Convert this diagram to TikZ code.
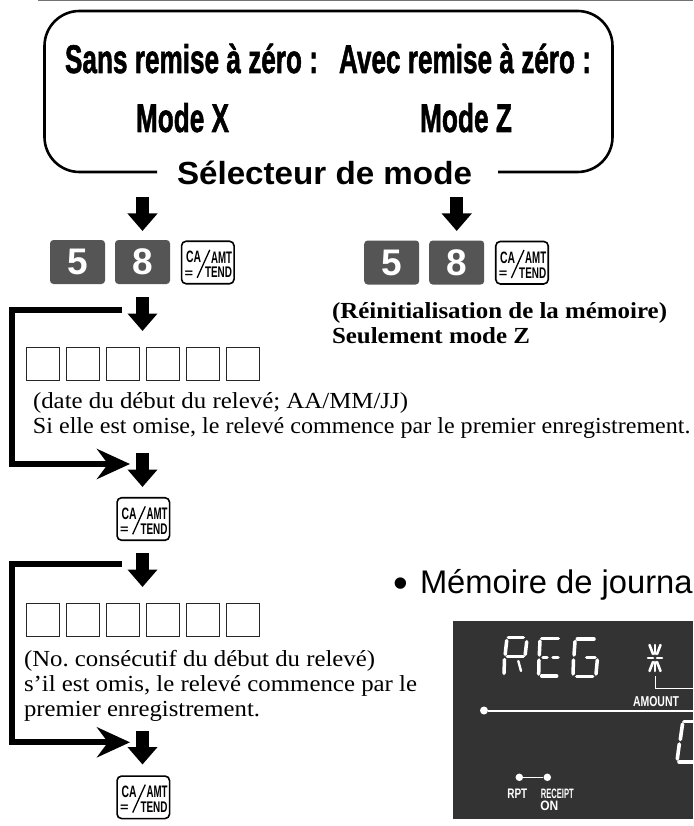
\documentclass[tikz,border=0pt]{standalone}
\usepackage{fontspec}
\setmainfont{Liberation Serif}
\newfontfamily\arialf{Liberation Sans}
\newfontfamily\arialh{Liberation Sans}[BoldFeatures={FakeBold=1.6}]
\usetikzlibrary{arrows.meta}
\definecolor{keygrey}{HTML}{555555}
\definecolor{lcdgrey}{HTML}{333333}
\frenchspacing
\newcommand{\fitw}[2]{\resizebox{#1pt}{\height}{#2}}
\newcommand{\fitwh}[3]{\resizebox{#1pt}{#2pt}{#3}}
\tikzset{
  txt/.style={anchor=base west,inner sep=0pt,outer sep=0pt,text=black},
  lab/.style={anchor=center,inner sep=0pt,outer sep=0pt},
  fatarrow/.style={line width=12.7pt,-{Triangle[length=17.5pt,width=29pt]}},
  bracket/.style={line width=6pt,miter limit=10},
  bracketarrow/.style={bracket,-{Stealth[length=33pt,width=30pt,inset=11pt]}},
  digitkey/.style={draw=none,fill=keygrey,rounded corners=3.5pt,minimum width=55pt,minimum height=44pt,inner sep=0pt,text=white,font=\arialf\bfseries\fontsize{37}{37}\selectfont},
  capkey/.style={draw=black,line width=1.6pt,fill=white,rounded corners=4.5pt,minimum width=52.5pt,minimum height=42.5pt,inner sep=0pt},
  cell/.style={draw=black!85,line width=0.7pt,fill=white,minimum width=33.5pt,minimum height=33.5pt,inner sep=0pt},
  seg/.style={draw=white,line width=3.5pt,line cap=round},
  bigseg/.style={draw=white,line width=3.6pt,line cap=round},
  lcdline/.style={draw=white,line width=2pt},
  lcdthin/.style={draw=white,line width=1pt},
  lcdtext/.style={lab,text=white,font=\arialf\bfseries\fontsize{13}{13}\selectfont},
}
% top-left corner of the key is (#2,#3)
\newcommand{\cakey}[3]{%
  \node[capkey] (#1) at (#2+27.3,#3+22) {};
  \node[lab] (#1ca) at (#2+13,#3+16.8) {\arialf\bfseries\fitwh{15}{11.5}{CA}};
  \node[lab] (#1amt) at (#2+41,#3+16.8) {\arialf\bfseries\fitwh{21}{11.5}{AMT}};
  \node[lab] (#1eq) at (#2+8.3,#3+33.3) {\arialf\bfseries\fitwh{8.5}{6.5}{=}};
  \node[lab] (#1tend) at (#2+38,#3+32) {\arialf\bfseries\fitwh{27}{10.6}{TEND}};
  \draw[line width=1.3pt] (#2+29.3,#3+9.3) -- (#2+16.7,#3+37.3);
}
\begin{document}
\begin{tikzpicture}[x=1pt,y=-1pt]
\useasboundingbox (0,0) rectangle (693,826);
\clip (0,0) rectangle (693,826);
\fill[white] (0,0) rectangle (693,826);

% top rule
\coordinate (ruleL) at (38,0.5);
\coordinate (ruleR) at (693,0.5);
\draw[black!55,line width=1.4pt] (ruleL) -- (ruleR);

% rounded selector frame, open at the bottom
\coordinate (frameL) at (157,172);
\coordinate (frameR) at (498,172);
\draw[line width=2.6pt,rounded corners=35pt]
  (frameL) -- (44.5,172) -- (44.5,11) -- (612.5,11) -- (612.5,172) -- (frameR);

\node[txt] (sans) at (65,73) {\arialh\bfseries\fontsize{40}{40}\selectfont\fitw{253}{Sans remise à zéro :}};
\node[txt] (avec) at (339,73) {\arialh\bfseries\fontsize{40}{40}\selectfont\fitw{252}{Avec remise à zéro :}};
\node[txt] (modex) at (136,132) {\arialh\bfseries\fontsize{40}{40}\selectfont\fitw{93}{Mode X}};
\node[txt] (modez) at (420,132) {\arialh\bfseries\fontsize{40}{40}\selectfont\fitw{92}{Mode Z}};
\node[txt] (selecteur) at (177,185) {\arialf\bfseries\fontsize{32}{32}\selectfont\fitw{295}{Sélecteur de mode}};

% left keys
\node[digitkey] (k5a) at (77.5,262) {5};
\node[digitkey] (k8a) at (142.5,262) {8};
\cakey{caa}{180.5}{240.5}
% right keys
\node[digitkey] (k5b) at (391.7,262.5) {5};
\node[digitkey] (k8b) at (456.7,262.5) {8};
\cakey{cab}{494.7}{240.7}

% bold note
\node[txt] (reinit) at (332,318) {\bfseries\fontsize{23}{23}\selectfont\fitw{335}{(Réinitialisation de la mémoire)}};
\node[txt] (seul) at (332,343) {\bfseries\fontsize{23}{23}\selectfont\fitw{198}{Seulement mode Z}};

% entry cells
\foreach \i in {0,...,5}{
  \node[cell] (ca\i) at (43+40*\i,364) {};
  \node[cell] (cb\i) at (43+40*\i,619.7) {};
}

\node[txt] (date1) at (33,408) {\fontsize{23}{23}\selectfont\fitw{375}{(date du début du relevé; AA/MM/JJ)}};
\node[txt] (date2) at (33,433) {\fontsize{23}{23}\selectfont\fitw{657.5}{Si elle est omise, le relevé commence par le premier enregistrement.}};
\node[txt] (no1) at (24,666.7) {\fontsize{23}{23}\selectfont\fitw{351}{(No. consécutif du début du relevé)}};
\node[txt] (no2) at (24,691.7) {\fontsize{23}{23}\selectfont\fitw{393}{s’il est omis, le relevé commence par le}};
\node[txt] (no3) at (24,716.7) {\fontsize{23}{23}\selectfont\fitw{236}{premier enregistrement.}};

% lower keys
\cakey{cac}{116}{497}
\cakey{cad}{116}{775.3}

% brackets (skip paths)
\coordinate (skipAstart) at (122,310);
\coordinate (skipAcornerT) at (11.6,310);
\coordinate (skipAcornerB) at (11.6,464);
\coordinate (skipAend) at (130,464);
\draw[bracketarrow] (skipAstart) -- (skipAcornerT) -- (skipAcornerB) -- (skipAend);
\coordinate (skipBstart) at (122,564.3);
\coordinate (skipBcornerT) at (11.6,564.3);
\coordinate (skipBcornerB) at (11.6,742.3);
\coordinate (skipBend) at (130,742.3);
\draw[bracketarrow] (skipBstart) -- (skipBcornerT) -- (skipBcornerB) -- (skipBend);

% fat arrows
\foreach \n/\xx/\ya/\yb in {a/142.5/197/231,b/456.7/197/231,c/142.5/297/331,d/142.5/453/487,e/142.5/553/587,f/142.5/731/764.5}{
  \coordinate (ar\n s) at (\xx,\ya);
  \coordinate (ar\n e) at (\xx,\yb);
  \draw[fatarrow] (ar\n s) -- (ar\n e);
}

% journal heading
\node[txt] (bullet) at (393.3,597) {\arialf\fontsize{42}{42}\selectfont •};
\node[txt] (journal) at (420,593) {\arialf\fontsize{32.7}{32.7}\selectfont Mémoire de journa};

% LCD panel
\fill[lcdgrey] (453,621) rectangle (693,819);
% R
\draw[seg] (508.3,637.7) -- (523.3,637.7);
\draw[seg] (506.7,640.5) -- (505.2,654.3);
\draw[seg] (526.7,641.7) -- (525.2,654.5);
\draw[seg] (507.3,656.7) -- (523.3,656.7);
\draw[seg] (504.5,659.5) -- (504,673.3);
\draw[seg,line width=2.4pt] (518.3,661) -- (521,671);
% E
\draw[seg] (541.7,638.3) -- (558.3,638.3);
\draw[seg] (540,641) -- (539.3,655);
\draw[seg] (543,657.3) -- (547,657.3);
\draw[seg] (553,657.3) -- (558,657.3);
\draw[seg] (539,660) -- (538.7,674);
\draw[seg] (541.7,676) -- (556.7,676);
% G
\draw[seg] (577.3,639) -- (594,639);
\draw[seg] (575,641.5) -- (574,655);
\draw[seg] (586.7,657.3) -- (595,657.3);
\draw[seg] (573.5,660) -- (573,674);
\draw[seg] (576.7,676.7) -- (592.7,676.7);
\draw[seg] (597.3,660) -- (596,674);
% star
\foreach \a/\b/\c/\d in {655/645/655/654, 655/662/655/671, 649.5/645/653/654, 660.5/645/657/654, 653/662/649.5/671, 657/662/660.5/671, 648/658/653/658, 657/658/662/658}{
  \draw[seg,line width=2.6pt] (\a,\b) -- (\c,\d);
}
% amount bracket
\coordinate (starfoot) at (655,676);
\coordinate (starcorner) at (655,688);
\coordinate (starright) at (693,688);
\draw[lcdthin] (starfoot) -- (starcorner) -- (starright);
\node[lcdtext] (amount) at (656,702) {\fitwh{46}{10}{AMOUNT}};
% long line
\node[circle,fill=white,inner sep=0pt,minimum size=8pt] (longdot) at (484,710.5) {};
\coordinate (longend) at (693,710.5);
\draw[lcdline] (longdot) -- (longend);
% big digit
\draw[bigseg] (684,721.5) -- (695,721.5);
\draw[bigseg] (682.5,724) -- (680.3,739.5);
\draw[bigseg] (679.3,744) -- (677.3,759);
\draw[bigseg] (679,762) -- (695,762);
% RPT
\node[circle,fill=white,inner sep=0pt,minimum size=7.5pt] (rptdot) at (519.3,777.3) {};
\node[circle,fill=white,inner sep=0pt,minimum size=7.5pt] (recdot) at (547.3,777.3) {};
\draw[draw=white,line width=1.5pt] (rptdot) -- (recdot);
\node[lcdtext] (rpt) at (517.3,794) {\fitwh{20}{9.5}{RPT}};
\node[lcdtext] (receipt) at (557.3,794) {\fitwh{33}{9.5}{RECEIPT}};
\node[lcdtext] (on) at (549.3,805.7) {\fitwh{18}{9.5}{ON}};
\end{tikzpicture}
\end{document}
